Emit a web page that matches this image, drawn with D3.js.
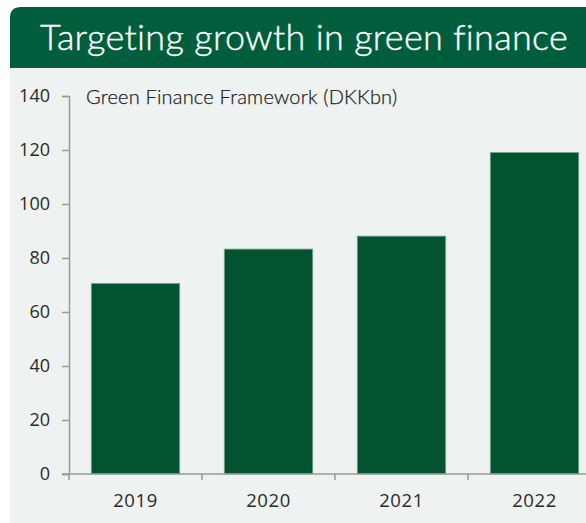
<!DOCTYPE html>
<html>
<head>
<meta charset="utf-8">
<script src="https://cdn.jsdelivr.net/npm/d3@7"></script>
<style>
  html, body { margin: 0; padding: 0; background: #ffffff; }
  svg { display: block; }
</style>
</head>
<body>
<script>
// Green finance volumes by year (DKK bn)
const years = ["2019", "2020", "2021", "2022"];
const volumes = [70.6, 83.3, 88.1, 119.1];
const yTicks = [0, 20, 40, 60, 80, 100, 120, 140];
const title = "Targeting growth in green finance";
const subtitle = "Green Finance Framework (DKKbn)";

const W = 586, H = 523;
const svg = d3.select("body").append("svg").attr("width", W).attr("height", H);

const textFont = "Lato, 'Open Sans', sans-serif";
const numFont = "'Open Sans', Roboto, sans-serif";

// panel background
svg.append("rect").attr("x", 10).attr("y", 60).attr("width", W - 10).attr("height", H - 60)
  .attr("fill", "#eef2f1");

// title banner with rounded top-left corner
const bx = 10, by = 7, bw = W - 10, bh = 61, r = 11;
svg.append("path")
  .attr("d", `M${bx},${by + bh} L${bx},${by + r} Q${bx},${by} ${bx + r},${by} L${bx + bw},${by} L${bx + bw},${by + bh} Z`)
  .attr("fill", "#005e3d");
svg.append("text").attr("x", 40).attr("y", 50)
  .attr("fill", "#ffffff").attr("font-family", textFont).attr("font-weight", 300)
  .attr("font-size", 36).attr("letter-spacing", 0.3)
  .attr("stroke", "#ffffff").attr("stroke-width", 0.4).text(title);

const x = d3.scaleBand().domain(years).range([69, 601]).paddingInner(0.335).paddingOuter(0.1675);
const y = d3.scaleLinear().domain([0, 140]).range([474, 96]);

const axisColor = "#9a9a9a";

// bars
svg.append("g").selectAll("rect").data(volumes).join("rect")
  .attr("x", (d, i) => x(years[i]))
  .attr("y", d => y(d))
  .attr("width", x.bandwidth())
  .attr("height", d => y(0) - y(d))
  .attr("fill", "#02532f")
  .attr("stroke", "#7fa593").attr("stroke-width", 0.8);

// y axis
const yAxis = svg.append("g").attr("transform", "translate(69,0)")
  .call(d3.axisLeft(y).tickValues(yTicks).tickSize(7).tickPadding(12).tickFormat(d3.format("d")));
yAxis.select(".domain").attr("stroke", axisColor).attr("stroke-width", 1.5);
yAxis.selectAll(".tick line").attr("stroke", axisColor).attr("stroke-width", 1.5);
yAxis.selectAll(".tick text").attr("fill", "#2a2a2a").attr("font-family", numFont)
  .attr("font-size", 18);

// x axis baseline, band-boundary ticks and labels
const step = x.step();
const xStart = x.range()[0];
svg.append("line").attr("x1", 62).attr("x2", W).attr("y1", y(0)).attr("y2", y(0))
  .attr("stroke", axisColor).attr("stroke-width", 1.5);
svg.append("g").selectAll("line").data(d3.range(years.length + 1)).join("line")
  .attr("x1", i => xStart + i * step).attr("x2", i => xStart + i * step)
  .attr("y1", y(0)).attr("y2", y(0) + 6)
  .attr("stroke", axisColor).attr("stroke-width", 1.5);
svg.append("g").selectAll("text").data(years).join("text")
  .attr("x", d => x(d) + x.bandwidth() / 2).attr("y", 507)
  .attr("text-anchor", "middle").attr("fill", "#2a2a2a")
  .attr("font-family", numFont).attr("font-size", 18.5).attr("letter-spacing", 0.6)
  .text(d => d);

// subtitle
svg.append("text").attr("x", 86).attr("y", 104)
  .attr("fill", "#222").attr("font-family", textFont).attr("font-weight", 300)
  .attr("font-size", 20).attr("letter-spacing", 0.2)
  .attr("stroke", "#222").attr("stroke-width", 0.25).text(subtitle);
</script>
</body>
</html>
